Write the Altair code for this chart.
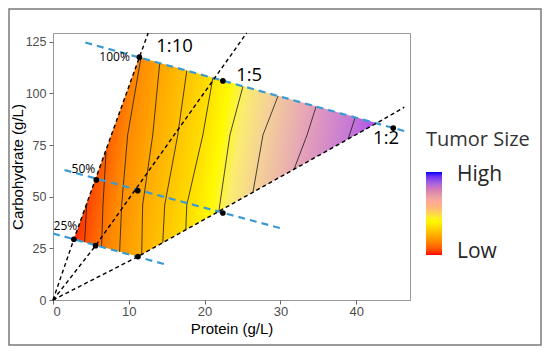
import altair as alt
import pandas as pd

# ---------------- data ----------------
# design points (protein g/L, carbohydrate g/L)
pt_p = [0, 2.75, 5.62, 11.2, 5.71, 11.17, 22.41, 11.4, 22.41, 44.89]
pt_c = [0, 29.4, 26.3, 21.0, 58.1, 52.9, 42.1, 117.5, 106.0, 83.2]

# shaded region (x, upper, lower)
reg_p = [2.75, 11.2, 11.4, 42.7]
reg_top = [29.4, 115.5, 117.5, 85.6]
reg_bot = [29.4, 21.0, 21.4, 85.6]

# ratio rays (black dashed)
ray_id = ["1:10"] * 4 + ["1:5"] * 3 + ["1:2"] * 4
ray_p = [0, 2.75, 11.4, 12.56, 0, 5.62, 25.55, 0, 11.2, 42.7, 46.35]
ray_c = [0, 29.4, 117.5, 129.2, 0, 26.3, 129.2, 0, 21.0, 85.6, 93.3]

# concentration lines (blue dashed)
dil_id = ["100%", "100%", "50%", "50%", "25%", "25%"]
dil_p = [4.26, 46.7, 1.52, 30.04, 0.0, 14.74]
dil_c = [124.6, 81.4, 62.9, 34.7, 32.2, 17.3]

# contour lines
con_id = (["a"] * 2 + ["b"] * 3 + ["c"] * 4 + ["d"] * 4 + ["e"] * 4 + ["f"] * 4
          + ["g"] * 3 + ["h"] * 3 + ["i"] * 3 + ["j"] * 2)
con_p = [4.45, 4.17,
         7.0, 6.59, 6.41,
         11.6, 9.85, 9.06, 8.79,
         14.08, 13.16, 11.83, 11.70,
         17.65, 16.46, 14.74, 14.48,
         21.09, 19.77, 17.65, 17.52,
         25.06, 23.34, 21.88,
         29.69, 27.70, 26.38,
         34.71, 33.52, 31.80,
         39.87, 38.94]
con_c = [46.9, 28.0,
         71.5, 46.0, 25.7,
         117.2, 79.85, 46.0, 23.3,
         114.6, 79.85, 46.0, 22.0,
         111.0, 79.85, 46.0, 27.7,
         107.5, 79.85, 46.0, 34.0,
         103.4, 79.85, 42.9,
         98.7, 79.85, 52.1,
         93.6, 79.85, 63.25,
         88.35, 77.9]

# annotation labels
pct_text = ["100%", "50%", "25%"]
pct_p = [8.13, 4.01, 1.63]
pct_c = [117.4, 63.4, 35.8]
ratio_text = ["1:10", "1:5", "1:2"]
ratio_p = [16.03, 25.88, 43.94]
ratio_c = [122.9, 108.9, 78.2]

# legend scale
leg_vals = [0, 1]

# ---------------- styles ----------------
grad_stops = [
    (0.09, "#ff2a00"), (0.13, "#ff4e00"), (0.17, "#ff6c00"), (0.215, "#ff8a00"),
    (0.297, "#ffa800"), (0.379, "#ffc400"), (0.461, "#ffe000"), (0.52, "#fffa00"),
    (0.58, "#fbec70"), (0.657, "#f5d296"), (0.801, "#e4a0ba"), (0.943, "#c476d6"),
    (1.0, "#b45ae8"),
]
fill_grad = alt.LinearGradient(
    gradient="linear",
    stops=[alt.GradientStop(offset=o, color=c) for o, c in grad_stops],
    x1=0, y1=0, x2=1, y2=0.1,
)

XD = [0, 47.1]
YD = [0, 129.2]
xs = alt.Scale(domain=XD, nice=False, zero=False)
ys = alt.Scale(domain=YD, nice=False, zero=False)

AX = dict(grid=False, domain=False, tickColor="#666666", tickSize=4,
          labelColor="#4d4d4d", labelFont="Liberation Sans",
          titleFont="Liberation Sans", titleFontSize=15, titleFontWeight="normal",
          titleColor="#000000")
xaxis = alt.Axis(values=[0, 10, 20, 30, 40], title="Protein (g/L)",
                 labelFontSize=13, labelPadding=1, titlePadding=3, **AX)
yaxis = alt.Axis(values=[0, 25, 50, 75, 100, 125], title="Carbohydrate (g/L)",
                 labelFontSize=12.5, labelPadding=3, titlePadding=0, **AX)

region_df = pd.DataFrame({"p": reg_p, "top": reg_top, "bot": reg_bot})
region = alt.Chart(region_df).mark_area(color=fill_grad, opacity=1).encode(
    x=alt.X("p:Q", scale=xs, axis=xaxis),
    y=alt.Y("top:Q", scale=ys, axis=yaxis),
    y2="bot:Q",
)

con_df = pd.DataFrame({"p": con_p, "c": con_c, "id": con_id,
                       "o": list(range(len(con_p)))})
contours = alt.Chart(con_df).mark_line(color="#1a1a1a", strokeWidth=0.8).encode(
    x=alt.X("p:Q", scale=xs), y=alt.Y("c:Q", scale=ys),
    detail="id:N", order="o:Q")

dil_df = pd.DataFrame({"p": dil_p, "c": dil_c, "id": dil_id})
dil = alt.Chart(dil_df).mark_line(color="#3b9bd1", strokeWidth=2.2,
                                  strokeDash=[7, 5]).encode(
    x=alt.X("p:Q", scale=xs), y=alt.Y("c:Q", scale=ys), detail="id:N")

ray_df = pd.DataFrame({"p": ray_p, "c": ray_c, "id": ray_id,
                       "o": list(range(len(ray_p)))})
rays = alt.Chart(ray_df).mark_line(color="#000000", strokeWidth=1.4,
                                   strokeDash=[4, 3]).encode(
    x=alt.X("p:Q", scale=xs), y=alt.Y("c:Q", scale=ys),
    detail="id:N", order="o:Q")

pt_df = pd.DataFrame({"p": pt_p, "c": pt_c})
pts = alt.Chart(pt_df).mark_circle(color="#000000", size=32, opacity=1,
                                   clip=True).encode(
    x=alt.X("p:Q", scale=xs), y=alt.Y("c:Q", scale=ys))

pct_df = pd.DataFrame({"t": pct_text, "p": pct_p, "c": pct_c})
pct = alt.Chart(pct_df).mark_text(font="Open Sans", fontSize=12, color="#000000",
                                  align="center", baseline="middle").encode(
    x=alt.X("p:Q", scale=xs), y=alt.Y("c:Q", scale=ys), text="t:N")

ratio_df = pd.DataFrame({"t": ratio_text, "p": ratio_p, "c": ratio_c})
ratio = alt.Chart(ratio_df).mark_text(font="Open Sans", fontSize=18.5,
                                      color="#000000", align="center",
                                      baseline="middle").encode(
    x=alt.X("p:Q", scale=xs), y=alt.Y("c:Q", scale=ys), text="t:N")

leg_df = pd.DataFrame({"v": leg_vals, "p": [0, 0], "c": [0, 0]})
legend_layer = alt.Chart(leg_df).mark_circle(size=0, opacity=1).encode(
    x=alt.X("p:Q", scale=xs), y=alt.Y("c:Q", scale=ys),
    color=alt.Color(
        "v:Q",
        scale=alt.Scale(domain=[0, 0.42, 0.72, 0.86, 1],
                        range=["#ff0000", "#ffff00", "#dca0a8", "#a468e0", "#0000ff"]),
        legend=alt.Legend(
            title="Tumor Size", values=[0.04, 0.96],
            labelExpr="datum.value < 0.5 ? 'Low' : 'High'",
            orient="none", legendX=373, legendY=97, direction="vertical",
            gradientLength=83, gradientThickness=16, gradientStrokeWidth=0,
            gradientOpacity=1,
            titleFont="Open Sans", titleFontSize=20, titleFontWeight="normal",
            titleColor="#333333", titlePadding=22,
            labelFont="Open Sans", labelFontSize=21, labelColor="#262626",
            labelOffset=15, padding=0,
        ),
    ),
)

frame = alt.Chart(alt.Data(values=[{"k": 1}])).mark_rect(
    fill="transparent", stroke="#7a7a7a", strokeWidth=1.5).encode(
    x=alt.value(-44), x2=alt.value(488), y=alt.value(-24), y2=alt.value(312))

chart = alt.layer(region, contours, dil, rays, pts, pct, ratio, legend_layer,
                  frame).properties(
    width=357, height=267,
    padding={"left": 45, "top": 25, "right": 132, "bottom": 46},
    autosize=alt.AutoSizeParams(type="none"),
).configure_view(stroke="#999999", strokeWidth=1)

chart.save("out.html", embed_options={"renderer": "svg", "actions": False})
